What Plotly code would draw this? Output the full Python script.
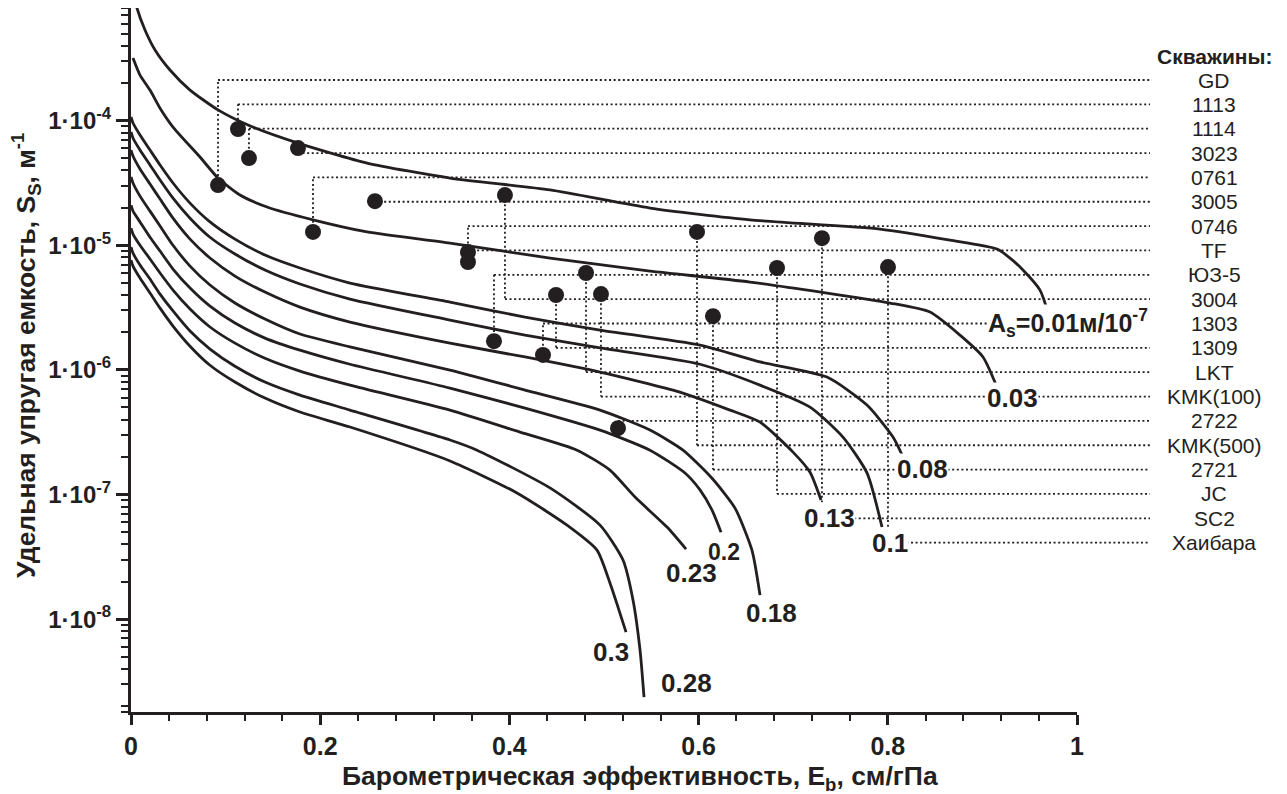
import plotly.graph_objects as go

INK = "#231f20"
FONT = "Liberation Sans"

# ---- theoretical curves: S_s (1/m) vs E_b, one pair of lists per A_s ----
eb_001 = [0.0032, 0.0063, 0.0148, 0.0254, 0.0412, 0.0624, 0.0920, 0.1237, 0.1765, 0.2495,
          0.3372, 0.4429, 0.5486, 0.6543, 0.7918, 0.8658, 0.9154, 0.9292, 0.9429, 0.9609, 0.9693]
ss_001 = [1.02e-3, 8.02e-4, 5.34e-4, 3.69e-4, 2.55e-4, 1.76e-4, 1.22e-4, 9.23e-5, 6.61e-5, 4.57e-5,
          3.46e-5, 2.78e-5, 1.99e-5, 1.60e-5, 1.35e-5, 1.10e-5, 9.33e-6, 7.90e-6, 6.33e-6, 4.37e-6, 2.91e-6]

eb_003 = [0.0021, 0.0095, 0.0201, 0.0307, 0.0444, 0.0729, 0.0920, 0.1152, 0.1438, 0.1924,
          0.2495, 0.3372, 0.4429, 0.5486, 0.6543, 0.8023, 0.8446, 0.8763, 0.9006, 0.9154]
ss_003 = [3.18e-4, 2.32e-4, 1.76e-4, 1.26e-4, 8.89e-5, 5.11e-5, 3.46e-5, 2.53e-5, 2.03e-5, 1.60e-5,
          1.28e-5, 1.04e-5, 7.90e-6, 6.21e-6, 5.07e-6, 3.44e-6, 2.91e-6, 1.90e-6, 1.27e-6, 7.28e-7]

eb_008 = [0, 0.0021, 0.0095, 0.0201, 0.0307, 0.0444, 0.0624, 0.0835, 0.1099, 0.1416, 0.1786, 0.2315,
          0.3372, 0.4165, 0.4958, 0.6015, 0.6649, 0.7357, 0.7780, 0.8055, 0.8161]
ss_008 = [1.07e-4, 9.57e-5, 7.67e-5, 5.81e-5, 4.41e-5, 3.16e-5, 2.18e-5, 1.54e-5, 1.12e-5, 8.35e-6,
          6.57e-6, 4.98e-6, 3.50e-6, 2.65e-6, 2.09e-6, 1.58e-6, 1.16e-6, 8.76e-7, 5.22e-7, 2.89e-7, 2.00e-7]

eb_010 = [0, 0.0021, 0.0095, 0.0201, 0.0307, 0.0444, 0.0624, 0.0835, 0.1099, 0.1416, 0.1786, 0.2315,
          0.3372, 0.4165, 0.4958, 0.6015, 0.6649, 0.7178, 0.7526, 0.7780, 0.7939]
ss_010 = [8.11e-5, 7.26e-5, 5.81e-5, 4.41e-5, 3.34e-5, 2.39e-5, 1.65e-5, 1.16e-5, 8.51e-6, 6.33e-6,
          4.89e-6, 3.70e-6, 2.51e-6, 1.90e-6, 1.50e-6, 1.11e-6, 7.55e-7, 5.03e-7, 2.89e-7, 1.49e-7, 5.48e-8]

eb_013 = [0, 0.0021, 0.0095, 0.0201, 0.0307, 0.0444, 0.0624, 0.0835, 0.1099, 0.1416, 0.1786, 0.2315,
          0.3372, 0.4165, 0.4958, 0.5803, 0.6332, 0.6649, 0.6998, 0.7178, 0.7294]
ss_013 = [5.81e-5, 5.20e-5, 4.09e-5, 3.10e-5, 2.35e-5, 1.65e-5, 1.12e-5, 7.90e-6, 5.66e-6, 4.21e-6,
          3.19e-6, 2.42e-6, 1.64e-6, 1.27e-6, 9.61e-7, 6.64e-7, 4.76e-7, 3.81e-7, 2.19e-7, 1.51e-7, 9.03e-8]

eb_018 = [0, 0.0021, 0.0095, 0.0201, 0.0307, 0.0444, 0.0624, 0.0835, 0.1099, 0.1416, 0.1786, 0.2315,
          0.3372, 0.4165, 0.4958, 0.5486, 0.5835, 0.6142, 0.6385, 0.6564, 0.6649]
ss_018 = [3.53e-5, 3.16e-5, 2.48e-5, 1.88e-5, 1.43e-5, 1.00e-5, 6.81e-6, 4.80e-6, 3.44e-6, 2.56e-6,
          1.94e-6, 1.53e-6, 9.97e-7, 6.89e-7, 4.76e-7, 3.29e-7, 2.27e-7, 1.35e-7, 7.78e-8, 3.58e-8, 1.56e-8]

eb_020 = [0, 0.0021, 0.0095, 0.0201, 0.0307, 0.0444, 0.0624, 0.0835, 0.1099, 0.1416, 0.1786, 0.2315,
          0.3372, 0.4165, 0.4958, 0.5486, 0.5856, 0.6015, 0.6142, 0.6237]
ss_020 = [2.10e-5, 1.88e-5, 1.54e-5, 1.16e-5, 8.99e-6, 6.45e-6, 4.54e-6, 3.25e-6, 2.38e-6, 1.80e-6,
          1.44e-6, 1.11e-6, 7.15e-7, 4.94e-7, 3.29e-7, 2.27e-7, 1.49e-7, 1.09e-7, 7.50e-8, 4.99e-8]

eb_023 = [0, 0.0021, 0.0095, 0.0201, 0.0307, 0.0444, 0.0624, 0.0835, 0.1099, 0.1416, 0.1786, 0.2315,
          0.3372, 0.4112, 0.4715, 0.5063, 0.5328, 0.5666, 0.5867]
ss_023 = [1.37e-5, 1.23e-5, 1.00e-5, 7.76e-6, 5.99e-6, 4.37e-6, 3.08e-6, 2.21e-6, 1.64e-6, 1.24e-6,
          9.79e-7, 7.55e-7, 4.76e-7, 3.17e-7, 2.27e-7, 1.57e-7, 9.54e-8, 5.48e-8, 3.65e-8]

eb_028 = [0, 0.0021, 0.0095, 0.0201, 0.0307, 0.0444, 0.0624, 0.0835, 0.1099, 0.1416, 0.1786, 0.2315,
          0.3372, 0.3658, 0.4429, 0.4958, 0.5201, 0.5307, 0.5381, 0.5423]
ss_028 = [9.68e-6, 8.66e-6, 6.94e-6, 5.36e-6, 4.06e-6, 2.97e-6, 2.05e-6, 1.47e-6, 1.07e-6, 7.99e-7,
          6.28e-7, 4.76e-7, 2.74e-7, 2.27e-7, 1.13e-7, 5.68e-8, 2.98e-8, 1.42e-8, 5.64e-9, 2.37e-9]

eb_030 = [0, 0.0021, 0.0095, 0.0201, 0.0307, 0.0444, 0.0624, 0.0835, 0.1099, 0.1416, 0.1786, 0.2315,
          0.3372, 0.4080, 0.4609, 0.4926, 0.5063, 0.5148, 0.5233]
ss_030 = [7.61e-6, 6.81e-6, 5.46e-6, 4.14e-6, 3.13e-6, 2.25e-6, 1.55e-6, 1.09e-6, 7.99e-7, 5.94e-7,
          4.59e-7, 3.48e-7, 1.86e-7, 1.03e-7, 5.68e-8, 3.58e-8, 1.95e-8, 1.25e-8, 7.87e-9]

curve_text = ["A<sub>s</sub>=0.01м/10<sup>-7</sup>", "0.03", "0.08", "0.1", "0.13",
              "0.18", "0.2", "0.23", "0.28", "0.3"]

# ---- wells (measured points), in the order of the list on the right ----
well_names = ["GD", "1113", "1114", "3023", "0761", "3005", "0746", "TF", "ЮЗ-5", "3004",
              "1303", "1309", "LKT", "KMK(100)", "2722", "KMK(500)", "2721", "JC", "SC2", "Хаибара"]
well_eb = [0.0920, 0.1131, 0.1247, 0.1765, 0.1924, 0.2579, 0.3562, 0.3562, 0.3837, 0.3953,
           0.4355, 0.4493, 0.4810, 0.4968, 0.5148, 0.5983, 0.6152, 0.6829, 0.7304, 0.8002]
well_ss = [3.04e-5, 8.57e-5, 5.01e-5, 6.03e-5, 1.28e-5, 2.26e-5, 7.34e-6, 8.82e-6, 1.70e-6, 2.53e-5,
           1.32e-6, 3.99e-6, 5.99e-6, 4.06e-6, 3.41e-7, 1.28e-5, 2.70e-6, 6.57e-6, 1.14e-5, 6.69e-6]

x_tick_vals = [0, 0.2, 0.4, 0.6, 0.8, 1]
x_tick_text = ["0", "0.2", "0.4", "0.6", "0.8", "1"]
y_tick_vals = [1e-4, 1e-5, 1e-6, 1e-7, 1e-8]
y_tick_text = ["1·10<sup>-4</sup>", "1·10<sup>-5</sup>", "1·10<sup>-6</sup>",
               "1·10<sup>-7</sup>", "1·10<sup>-8</sup>"]

# ---- layout geometry ----
# the page body has an 8px margin, so the figure is 8px smaller and drawn from (8, 8)
PAGE_PAD = 8
W, H = 1287 - PAGE_PAD, 794 - PAGE_PAD
PLOT_LEFT, PLOT_TOP, PLOT_RIGHT, PLOT_BOTTOM = 131, 8, 1077, 712   # page pixels
PW, PH = PLOT_RIGHT - PLOT_LEFT, PLOT_BOTTOM - PLOT_TOP
L, T = PLOT_LEFT - PAGE_PAD, PLOT_TOP - PAGE_PAD
R, B = W - L - PW, H - T - PH
Y_LOG = [-8.745, -3.096]


def px_x(px):
    return (px - PLOT_LEFT) / PW


def px_y(py):
    return (PLOT_BOTTOM - py) / PH


def paper_to_ss(p):
    return 10 ** (Y_LOG[0] + p * (Y_LOG[1] - Y_LOG[0]))


ROW0, ROW_STEP = 80, 24.35
row_y = [px_y(ROW0 + i * ROW_STEP) for i in range(len(well_names))]
LEADER_END = px_x(1150)
LABEL_X = px_x(1214)
DOTS = dict(color=INK, width=1.8, dash="2px,2.6px")

fig = go.Figure()

# vertical parts of the leaders
lx, ly = [], []
for e, s, ry in zip(well_eb, well_ss, row_y):
    lx += [e, e, None]
    ly += [s, paper_to_ss(ry), None]
fig.add_trace(go.Scatter(x=lx, y=ly, mode="lines", hoverinfo="skip", line=DOTS))

curves = [(eb_001, ss_001), (eb_003, ss_003), (eb_008, ss_008), (eb_010, ss_010),
          (eb_013, ss_013), (eb_018, ss_018), (eb_020, ss_020), (eb_023, ss_023),
          (eb_028, ss_028), (eb_030, ss_030)]
for xs, ys in curves:
    fig.add_trace(go.Scatter(x=xs, y=ys, mode="lines", hoverinfo="skip",
                             line=dict(color=INK, width=2.8, shape="spline", smoothing=0.6)))

fig.add_trace(go.Scatter(x=well_eb, y=well_ss, mode="markers", text=well_names,
                         marker=dict(size=16, color=INK, line=dict(width=0))))

# horizontal parts of the leaders
shapes = []
for e, ry in zip(well_eb, row_y):
    shapes.append(dict(type="line", xref="paper", yref="paper", x0=e, x1=LEADER_END, y0=ry, y1=ry,
                       layer="below", line=DOTS))

annotations = []
for name, ry in zip(well_names, row_y):
    annotations.append(dict(x=LABEL_X, y=ry, xref="paper", yref="paper", text=name, showarrow=False,
                            xanchor="center", yanchor="middle",
                            font=dict(family=FONT, size=21, color=INK)))
annotations.append(dict(x=LABEL_X, y=px_y(56), xref="paper", yref="paper", text="Скважины:",
                        showarrow=False, xanchor="center", yanchor="middle",
                        font=dict(family=FONT, size=21, color=INK, weight="bold")))

# curve labels: (centre px, font size, white box)
label_pos = [(1068, 323, 25, True), (1012, 398, 26, True), (922, 469, 26, True), (890, 543, 26, True),
             (829, 518, 26, True), (771, 613, 26, False), (724, 552, 23, False), (691, 573, 26, False),
             (686, 683, 26, False), (611, 652, 26, False)]
for txt, (px, py, fs, box) in zip(curve_text, label_pos):
    annotations.append(dict(x=px_x(px), y=px_y(py), xref="paper", yref="paper", text=txt,
                            showarrow=False, xanchor="center", yanchor="middle", borderpad=0,
                            bgcolor="white" if box else "rgba(0,0,0,0)",
                            font=dict(family=FONT, size=fs, color=INK, weight="bold")))

annotations.append(dict(x=px_x(640), y=px_y(778), xref="paper", yref="paper",
                        text="Барометрическая эффективность, E<sub>b</sub>, см/гПа",
                        showarrow=False, xanchor="center", yanchor="middle",
                        font=dict(family=FONT, size=26.5, color=INK, weight="bold")))
annotations.append(dict(x=px_x(26), y=px_y(356), xref="paper", yref="paper", textangle=-90,
                        text="Удельная упругая емкость, S<sub>S</sub>, м<sup>-1</sup>",
                        showarrow=False, xanchor="center", yanchor="middle",
                        font=dict(family=FONT, size=26.5, color=INK, weight="bold")))

y_minor = [m * 10 ** d for d in range(-9, -3) for m in range(2, 10)]
y_minor = [v for v in y_minor if 10 ** Y_LOG[0] < v < 10 ** Y_LOG[1]]
y_minor.append(10 ** (Y_LOG[0] + 0.002))

fig.update_layout(
    width=W, height=H,
    margin=dict(l=L, r=R, t=T, b=B, pad=0),
    paper_bgcolor="white", plot_bgcolor="white",
    showlegend=False,
    shapes=shapes,
    annotations=annotations,
    xaxis=dict(range=[0, 1], showgrid=False, zeroline=False, showline=True, automargin=False,
               linecolor=INK, linewidth=3, ticks="outside", ticklen=10, tickwidth=2.5,
               tickcolor=INK, tickmode="array", tickvals=x_tick_vals, ticktext=x_tick_text,
               tickfont=dict(family=FONT, size=25, color=INK, weight="bold"),
               minor=dict(ticks="outside", dtick=0.04, tick0=0, ticklen=6, tickwidth=2,
                          tickcolor=INK)),
    yaxis=dict(type="log", range=Y_LOG, showgrid=False, zeroline=False, showline=True,
               automargin=False,
               linecolor=INK, linewidth=3, ticks="outside", ticklen=12, tickwidth=2.5,
               tickcolor=INK, tickmode="array", tickvals=y_tick_vals, ticktext=y_tick_text,
               tickfont=dict(family=FONT, size=24, color=INK, weight="bold"),
               minor=dict(ticks="outside", tickmode="array", tickvals=y_minor, ticklen=7,
                          tickwidth=2, tickcolor=INK)),
)

fig.write_html("out.html")
